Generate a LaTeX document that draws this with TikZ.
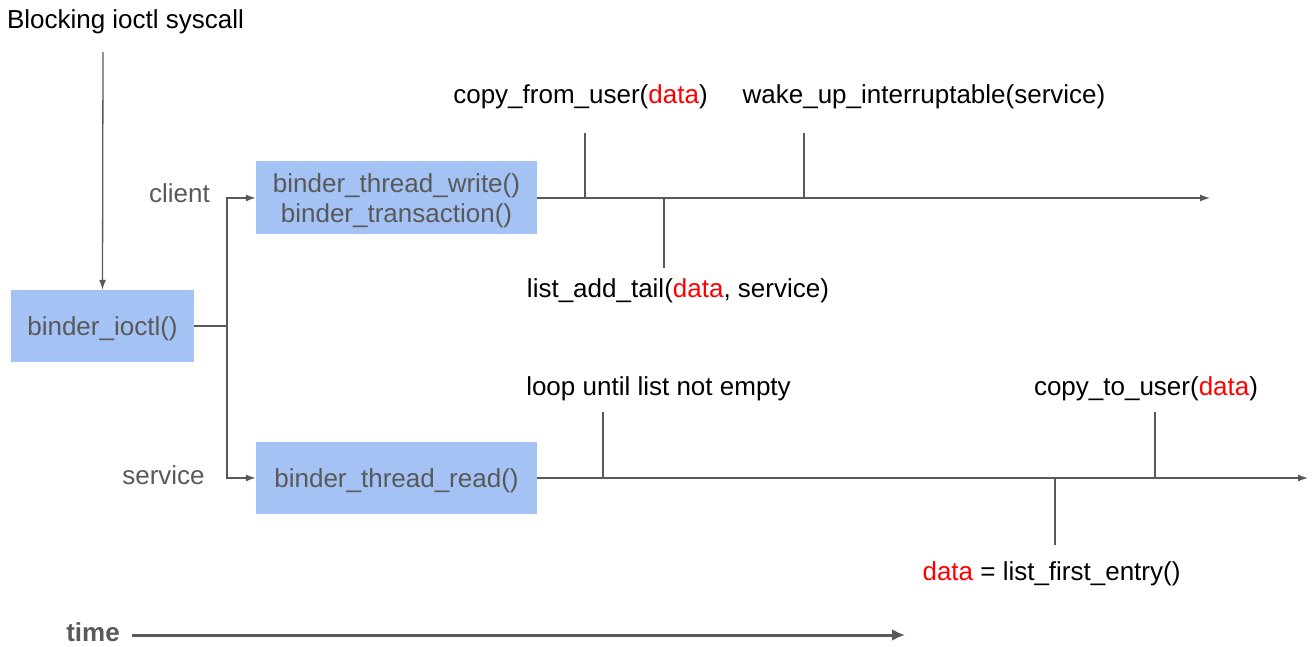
\documentclass[tikz,border=0pt]{standalone}
\usepackage{fontspec}
\setmainfont{Liberation Sans}
\usetikzlibrary{arrows.meta}
\definecolor{boxblue}{HTML}{A4C2F4}
\definecolor{ink}{HTML}{595959}
\definecolor{datared}{HTML}{FF0000}
\newcommand{\dat}{\textcolor{datared}{data}}
\begin{document}
\begin{tikzpicture}[x=1pt,y=-1pt,
  every node/.style={font=\fontsize{26}{30}\selectfont, inner sep=0pt},
  fbox/.style={fill=boxblue, text=ink, align=center, text depth=0pt},
  lbl/.style={anchor=base, text=black},
  side/.style={anchor=base, text=ink},
  conn/.style={draw=ink, line width=1.3pt},
  arr/.style={conn, -{Latex[length=10pt,width=7pt]}},
  tarr/.style={draw=ink, line width=3pt, -{Latex[length=13pt,width=12pt]}}]
\useasboundingbox (0,0) rectangle (1312,647);
% labels
\node[lbl] (sys) at (125.5,29) {Blocking ioctl syscall};
\coordinate (systop) at (103,52);
% boxes
\node[fbox, minimum width=183pt, minimum height=72pt] (ioctl) at (102.5,326) {binder\_ioctl()};
\node[fbox, minimum width=281pt, minimum height=73pt] (write) at (396.5,198) {binder\_thread\_write()\\binder\_transaction()};
\node[fbox, minimum width=281pt, minimum height=72pt] (read) at (396.5,478) {binder\_thread\_read()};
\node[side] (client) at (179.5,203) {client};
\node[side] (service) at (163.5,484) {service};
% connectors from ioctl
\draw[arr] (systop) -- (ioctl.north);
\coordinate (junc) at (227,326);
\draw[conn] (ioctl.east) -- (junc);
\draw[arr] (junc) |- (write.west);
\draw[arr] (junc) |- (read.west);
% timelines
\coordinate (cend) at (1210,198);
\coordinate (send) at (1308,478);
\draw[arr] (write.east) -- (cend);
\draw[arr] (read.east) -- (send);
% client events
\node[lbl] (cfu) at (580.5,104) {copy\_from\_user(\dat)};
\node[lbl] (wake) at (924,104) {wake\_up\_interruptable(service)};
\node[lbl] (lat) at (678,297) {list\_add\_tail(\dat, service)};
\coordinate (c1a) at (585,198); \coordinate (c1b) at (585,133);
\coordinate (c2a) at (804,198); \coordinate (c2b) at (804,133);
\coordinate (c3a) at (664,198); \coordinate (c3b) at (664,268);
\draw[conn] (c1a) -- (c1b);
\draw[conn] (c2a) -- (c2b);
\draw[conn] (c3a) -- (c3b);
% service events
\node[lbl] (loop) at (658.5,395) {loop until list not empty};
\node[lbl] (ctu) at (1146,395) {copy\_to\_user(\dat)};
\node[lbl] (lfe) at (1051.5,580) {\dat{} = list\_first\_entry()};
\coordinate (s1a) at (603,478); \coordinate (s1b) at (603,412);
\coordinate (s2a) at (1155,478); \coordinate (s2b) at (1155,412);
\coordinate (s3a) at (1055,478); \coordinate (s3b) at (1055,545);
\draw[conn] (s1a) -- (s1b);
\draw[conn] (s2a) -- (s2b);
\draw[conn] (s3a) -- (s3b);
% time
\node[anchor=base, text=ink, font=\fontsize{26}{30}\selectfont\bfseries] (time) at (93,641) {time};
\coordinate (tstart) at (132,635);
\coordinate (tend) at (905,635);
\draw[tarr] (tstart) -- (tend);
\end{tikzpicture}
\end{document}
